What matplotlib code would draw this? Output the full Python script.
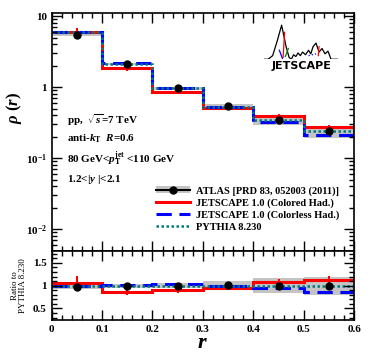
import numpy as np
import matplotlib
matplotlib.use('Agg')
import matplotlib.pyplot as plt
from matplotlib.patches import Patch
from matplotlib.lines import Line2D
from matplotlib.ticker import MultipleLocator, LogLocator, NullFormatter

# bin edges in r
edges = [0.0, 0.1, 0.2, 0.3, 0.4, 0.5, 0.6]
centers = [0.05, 0.15, 0.25, 0.35, 0.45, 0.55]

# rho(r) values
atlas = [5.5, 2.12, 0.97, 0.54, 0.35, 0.24]
atlas_rel = [0.05, 0.04, 0.05, 0.09, 0.17, 0.20]
colored = [6.0, 1.85, 0.87, 0.51, 0.39, 0.275]
colored_err = [0.9, 0.15, 0.06, 0.03, 0.025, 0.02]
colorless = [5.9, 2.19, 0.98, 0.535, 0.32, 0.21]
pythia = [5.9, 2.15, 0.97, 0.53, 0.35, 0.24]

# ratio to PYTHIA
atlas_ratio = [0.97, 1.0, 1.0, 1.02, 1.0, 0.99]
colored_ratio = [1.06, 0.86, 0.91, 0.95, 1.07, 1.13]
colored_ratio_err = [0.15, 0.07, 0.06, 0.05, 0.07, 0.08]
colorless_ratio = [1.0, 1.02, 1.03, 1.0, 0.95, 0.87]
pythia_ratio = [1.0, 1.0, 1.0, 1.0, 1.0, 1.0]

# logo outline (decoration)
logo_x = [0, 6, 12, 18, 24, 30, 34, 37, 40, 43, 46, 49, 52, 56, 60, 63, 66, 70, 74, 78, 82, 86, 90, 100]
logo_y = [0, 0, 4, 20, 38, 14, 2, 0, 5, 3, 7, 4, 8, 5, 10, 6, 14, 18, 8, 12, 6, 9, 0, 0]

serif = ['Liberation Serif', 'DejaVu Serif']
plt.rcParams['font.family'] = serif
plt.rcParams['font.weight'] = 'bold'
plt.rcParams['mathtext.fontset'] = 'custom'
plt.rcParams['mathtext.rm'] = 'Liberation Serif:bold'
plt.rcParams['mathtext.it'] = 'Liberation Serif:italic:bold'
plt.rcParams['mathtext.bf'] = 'Liberation Serif:bold'

fig = plt.figure(figsize=(3.74, 3.59), dpi=100)
ax = fig.add_axes([0.138, 0.302, 0.809, 0.661])
axr = fig.add_axes([0.138, 0.109, 0.809, 0.193], sharex=ax)

red = '#ff0000'
blue = '#0000ff'
teal = '#007a7a'
grey = '#c4c4c4'
dash = (0, (5, 2.5))
dot = (0, (1, 1))

# top panel
lo = [v * (1 - e) for v, e in zip(atlas, atlas_rel)]
hi = [v * (1 + e) for v, e in zip(atlas, atlas_rel)]
ax.stairs(hi, edges, baseline=lo, fill=True, color=grey, lw=0)
ax.stairs(colored, edges, baseline=None, color=red, lw=2.2)
ax.errorbar(centers, colored, yerr=colored_err, fmt='none', ecolor=red, elinewidth=1.5)
ax.stairs(colorless, edges, baseline=None, color=blue, lw=2.2, linestyle=dash)
ax.stairs(pythia, edges, baseline=None, color=teal, lw=1.8, linestyle=dot)
ax.plot(centers, atlas, 'o', color='black', ms=5)

ax.set_yscale('log')
ax.set_ylim(0.005, 11)
ax.set_xlim(0, 0.6)
ax.set_ylabel(r'$\rho\ (r)$', fontsize=12)
ax.yaxis.set_label_coords(-0.09, 0.6)
ax.yaxis.set_minor_locator(LogLocator(base=10, subs=np.arange(2, 10), numticks=20))
ax.yaxis.set_minor_formatter(NullFormatter())
ax.set_yticks([0.01, 0.1, 1, 10])
ax.set_yticklabels([r'$10^{-2}$', r'$10^{-1}$', '1', '10'])
plt.setp(ax.get_xticklabels(), visible=False)

txt_kw = dict(transform=ax.transAxes, fontsize=8, ha='left', va='center')
ax.text(0.05, 0.548, r'pp,  $\sqrt{s}$=7 TeV', **txt_kw)
ax.text(0.05, 0.470, r'anti-$k_{\mathrm{T}}$  $R$=0.6', **txt_kw)
ax.text(0.05, 0.387, r'80 GeV<$p_{\mathrm{T}}^{\mathrm{jet}}$ <110 GeV', **txt_kw)
ax.text(0.05, 0.301, r'1.2<|$y$ |<2.1', **txt_kw)

handles = [
    (Patch(facecolor=grey, edgecolor='none'),
     Line2D([], [], color='black', marker='o', ms=5, lw=1.5)),
    Line2D([], [], color=red, lw=2.2),
    Line2D([], [], color=blue, lw=2.2, linestyle=dash),
    Line2D([], [], color=teal, lw=1.8, linestyle=dot),
]
labels = ['ATLAS [PRD 83, 052003 (2011)]',
          'JETSCAPE 1.0 (Colored Had.)',
          'JETSCAPE 1.0 (Colorless Had.)',
          'PYTHIA 8.230']
ax.legend(handles, labels, loc='upper left', bbox_to_anchor=(0.33, 0.29),
          frameon=False, fontsize=7.5, handlelength=3.3, handletextpad=0.6,
          labelspacing=0.25, borderaxespad=0)

# logo
lax = fig.add_axes([0.705, 0.835, 0.2, 0.10])
lax.plot(logo_x, logo_y, color='black', lw=0.9)
lax.plot([26, 28], [2, 30], color=red, lw=0.9)
lax.plot([21, 25], [10, 1], color=blue, lw=0.9)
lax.plot([29, 33], [3, 12], color='green', lw=0.9)
lax.plot([73, 74], [4, 14], color=red, lw=0.9)
lax.plot([60, 70], [4, 6], color=blue, lw=0.9, ls=':')
lax.set_xlim(0, 100)
lax.set_ylim(0, 40)
lax.axis('off')
fig.text(0.805, 0.815, 'JETSCAPE', fontsize=8, fontweight='bold',
         family='DejaVu Sans', ha='center', va='center')

# ratio panel
rlo = [v * (1 - e) for v, e in zip(atlas_ratio, atlas_rel)]
rhi = [v * (1 + e) for v, e in zip(atlas_ratio, atlas_rel)]
axr.stairs(rhi, edges, baseline=rlo, fill=True, color=grey, lw=0)
axr.stairs(colored_ratio, edges, baseline=None, color=red, lw=2.2)
axr.errorbar(centers, colored_ratio, yerr=colored_ratio_err, fmt='none', ecolor=red, elinewidth=1.5)
axr.stairs(colorless_ratio, edges, baseline=None, color=blue, lw=2.2, linestyle=dash)
axr.stairs(pythia_ratio, edges, baseline=None, color=teal, lw=1.8, linestyle=dot)
axr.plot(centers, atlas_ratio, 'o', color='black', ms=5)
axr.set_ylim(0.25, 1.77)
axr.yaxis.set_minor_locator(MultipleLocator(0.1))
axr.xaxis.set_minor_locator(MultipleLocator(0.02))
axr.set_yticks([0.5, 1.0, 1.5])
axr.set_yticklabels(['0.5', '1', '1.5'])
axr.set_xticks(edges)
axr.set_xticklabels(['0', '0.1', '0.2', '0.3', '0.4', '0.5', '0.6'])
axr.set_xlim(0, 0.6)
axr.set_ylabel('Ratio to\nPYTHIA 8.230', fontsize=6.5, linespacing=1.0)
axr.yaxis.set_label_coords(-0.08, 0.5)
axr.set_xlabel(r'$r$', fontsize=16, labelpad=0)

for a in (ax, axr):
    a.tick_params(which='both', direction='in', top=True, right=True,
                  labelsize=8, width=1.0)
    a.tick_params(which='major', length=7)
    a.tick_params(which='minor', length=3.5)
    for s in a.spines.values():
        s.set_linewidth(1.2)

fig.savefig('out.png', dpi=100)
